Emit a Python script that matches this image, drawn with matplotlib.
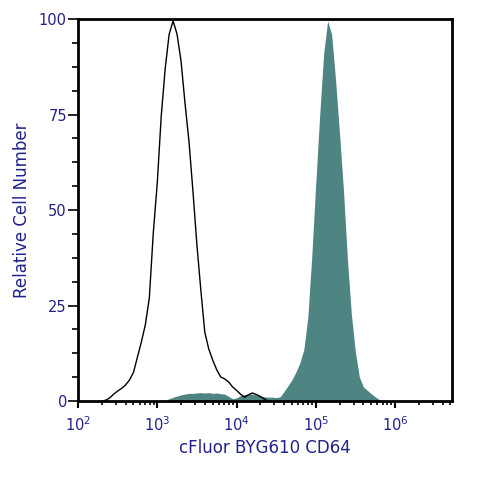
import numpy as np
import matplotlib
matplotlib.use("Agg")
import matplotlib.pyplot as plt
from matplotlib.ticker import FixedLocator, NullFormatter

# ---- data (log10 fluorescence bin centres and relative counts) ----
ctrl_log = [2.30, 2.35, 2.40, 2.45, 2.50, 2.55, 2.60, 2.65, 2.70, 2.75,
            2.80, 2.85, 2.90, 2.95, 3.00, 3.05, 3.10, 3.15, 3.20, 3.25,
            3.30, 3.35, 3.40, 3.45, 3.50, 3.55, 3.60, 3.65, 3.70, 3.75,
            3.80, 3.85, 3.90, 3.95, 4.00, 4.05, 4.10, 4.15, 4.20, 4.25,
            4.30, 4.35, 4.40]
ctrl_val = [0.0, 0.2, 0.8, 1.8, 2.6, 3.3, 4.2, 5.5, 7.5, 11.5,
            15.5, 20.0, 27.0, 44.0, 57.0, 74.5, 87.0, 96.0, 99.5, 96.0,
            89.0, 78.0, 68.0, 55.0, 41.0, 29.0, 18.0, 13.6, 10.7, 8.2,
            6.3, 5.8, 5.0, 3.7, 2.8, 1.8, 1.0, 1.6, 2.1, 1.7,
            1.2, 0.5, 0.0]

stain_log = [3.10, 3.15, 3.20, 3.25, 3.30, 3.35, 3.40, 3.45, 3.50, 3.55,
             3.60, 3.65, 3.70, 3.75, 3.80, 3.85, 3.90, 3.95, 4.00, 4.05,
             4.10, 4.15, 4.20, 4.25, 4.30, 4.35, 4.40, 4.45, 4.50, 4.55,
             4.60, 4.65, 4.70, 4.75, 4.80, 4.85, 4.90, 4.95, 5.00, 5.05,
             5.10, 5.15, 5.20, 5.25, 5.30, 5.35, 5.40, 5.45, 5.50, 5.55,
             5.60, 5.65, 5.70, 5.75, 5.80, 5.85]
stain_val = [0.2, 0.6, 1.0, 1.3, 1.6, 1.8, 2.0, 2.0, 2.1, 2.2,
             2.1, 2.2, 2.0, 2.1, 1.9, 1.8, 1.2, 0.6, 0.8, 1.4,
             1.7, 1.8, 1.8, 1.6, 1.3, 1.1, 1.0, 1.0, 0.9, 1.1,
             2.5, 4.0, 5.6, 7.6, 10.0, 13.5, 22.0, 38.0, 57.0, 75.0,
             91.0, 99.5, 96.0, 84.0, 70.0, 55.0, 37.0, 22.5, 12.8, 6.3,
             3.7, 2.8, 1.9, 1.1, 0.4, 0.0]

x_major = [1e2, 1e3, 1e4, 1e5, 1e6]
x_major_labels = ["$10^{2}$", "$10^{3}$", "$10^{4}$", "$10^{5}$", "$10^{6}$"]
y_major = [0, 25, 50, 75, 100]
xlabel = "cFluor BYG610 CD64"
ylabel = "Relative Cell Number"

navy = "#22228c"
teal = "#4e8482"

fig = plt.figure(figsize=(4.8, 4.8), dpi=100)
ax = fig.add_axes([78/480, 79/480, 374/480, 382/480])

sx = 10 ** np.array(stain_log)
cx = 10 ** np.array(ctrl_log)
ax.fill_between(sx, 0, stain_val, color=teal, lw=0, zorder=2)
ax.plot(cx, ctrl_val, color="black", lw=1.0, zorder=3)

ax.set_xscale("log")
ax.set_xlim(1e2, 10 ** 6.719)
ax.set_ylim(0, 100)

ax.xaxis.set_major_locator(FixedLocator(x_major))
ax.set_xticklabels(x_major_labels)
minors = [m * 10 ** e for e in range(2, 7) for m in range(2, 10)]
minors = [v for v in minors if v < 10 ** 6.719]
ax.xaxis.set_minor_locator(FixedLocator(minors))
ax.xaxis.set_minor_formatter(NullFormatter())

ax.yaxis.set_major_locator(FixedLocator(y_major))
ax.yaxis.set_minor_locator(FixedLocator([v * 6.25 for v in range(17) if v % 4]))
ax.yaxis.set_minor_formatter(NullFormatter())

ax.tick_params(axis="x", which="major", direction="out", length=5, width=1.5,
               colors="black", labelcolor=navy, labelsize=10.5, pad=5)
ax.tick_params(axis="x", which="minor", direction="out", length=3, width=1.2,
               colors="black")
ax.tick_params(axis="y", which="major", direction="out", length=7, width=1.2,
               colors="black", labelcolor=navy, labelsize=10.5, pad=1)
ax.tick_params(axis="y", which="minor", direction="out", length=4, width=1.2,
               colors="black")

for s in ax.spines.values():
    s.set_linewidth(2.0)
    s.set_color("black")

ax.set_xlabel(xlabel, color=navy, fontsize=12, labelpad=4)
ax.set_ylabel(ylabel, color=navy, fontsize=12, labelpad=6)

fig.savefig("out.png", dpi=100)
